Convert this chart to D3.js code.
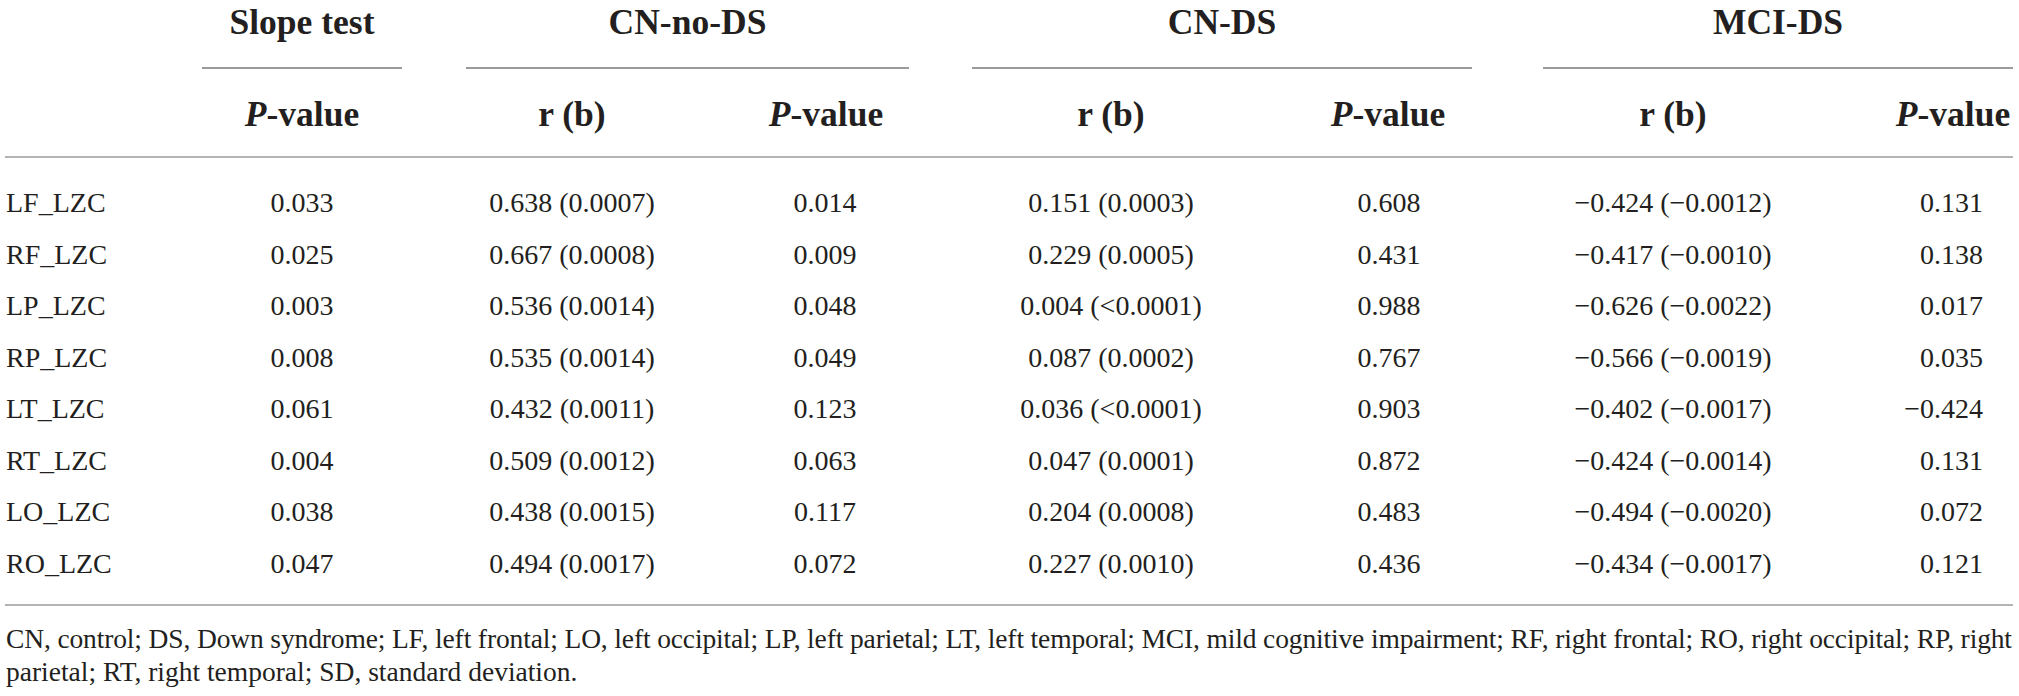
<!DOCTYPE html>
<html>
<head>
<meta charset="utf-8">
<script src="https://cdn.jsdelivr.net/npm/d3@7"></script>
<style>
  html, body { margin: 0; padding: 0; background: #fff; }
  svg { display: block; }
  text { font-family: "Liberation Serif", "DejaVu Serif", serif; fill: #231f20; }
</style>
</head>
<body>
<svg id="table" width="2019" height="696"></svg>
<script>
const rowLabels = ['LF_LZC', 'RF_LZC', 'LP_LZC', 'RP_LZC', 'LT_LZC', 'RT_LZC', 'LO_LZC', 'RO_LZC']
const slopeP = ['0.033', '0.025', '0.003', '0.008', '0.061', '0.004', '0.038', '0.047']
const cnNoDsR = ['0.638 (0.0007)', '0.667 (0.0008)', '0.536 (0.0014)', '0.535 (0.0014)', '0.432 (0.0011)', '0.509 (0.0012)', '0.438 (0.0015)', '0.494 (0.0017)']
const cnNoDsP = ['0.014', '0.009', '0.048', '0.049', '0.123', '0.063', '0.117', '0.072']
const cnDsR = ['0.151 (0.0003)', '0.229 (0.0005)', '0.004 (<0.0001)', '0.087 (0.0002)', '0.036 (<0.0001)', '0.047 (0.0001)', '0.204 (0.0008)', '0.227 (0.0010)']
const cnDsP = ['0.608', '0.431', '0.988', '0.767', '0.903', '0.872', '0.483', '0.436']
const mciDsR = ['\u22120.424 (\u22120.0012)', '\u22120.417 (\u22120.0010)', '\u22120.626 (\u22120.0022)', '\u22120.566 (\u22120.0019)', '\u22120.402 (\u22120.0017)', '\u22120.424 (\u22120.0014)', '\u22120.494 (\u22120.0020)', '\u22120.434 (\u22120.0017)']
const mciDsP = ['0.131', '0.138', '0.017', '0.035', '\u22120.424', '0.131', '0.072', '0.121']

// Column groups (spanning headers) and sub-columns
const groups = ['Slope test', 'CN-no-DS', 'CN-DS', 'MCI-DS']
const columns = ['slopeP', 'cnNoDsR', 'cnNoDsP', 'cnDsR', 'cnDsP', 'mciDsR', 'mciDsP']
const columnHeads = ['P', 'r', 'P', 'r', 'P', 'r', 'P']
const columnValues = [slopeP, cnNoDsR, cnNoDsP, cnDsR, cnDsP, mciDsR, mciDsP]

const footnote = [
  'CN, control; DS, Down syndrome; LF, left frontal; LO, left occipital; LP, left parietal; LT, left temporal; MCI, mild cognitive impairment; RF, right frontal; RO, right occipital; RP, right',
  'parietal; RT, right temporal; SD, standard deviation.'
]

const svg = d3.select('#table')
const left = 5
const right = 2013

// Layout scales
const colX = d3.scaleOrdinal().domain(columns).range([302, 572, 825, 1111, 1389, 1673, 1983])
const headX = d3.scaleOrdinal().domain(columns).range([302, 572, 826, 1111, 1388, 1673, 1953])
const groupSpan = d3.scaleOrdinal().domain(groups).range([[202, 402], [466, 909], [972, 1472], [1543, 2013]])
const y = d3.scalePoint().domain(rowLabels).range([212, 573])

// Spanning headers
svg.append('g').selectAll('text')
  .data(groups)
  .join('text')
  .attr('x', d => (groupSpan(d)[0] + groupSpan(d)[1]) / 2)
  .attr('y', 34)
  .attr('text-anchor', 'middle')
  .style('font-size', '35.5px')
  .style('font-weight', 'bold')
  .text(d => d)

svg.append('g').selectAll('line')
  .data(groups)
  .join('line')
  .attr('x1', d => groupSpan(d)[0])
  .attr('x2', d => groupSpan(d)[1])
  .attr('y1', 68)
  .attr('y2', 68)
  .attr('stroke', '#7a7a7a')
  .attr('stroke-width', 1.6)

// Sub-column headers
const heads = svg.append('g').selectAll('text')
  .data(columns)
  .join('text')
  .attr('x', d => headX(d))
  .attr('y', 126)
  .attr('text-anchor', 'middle')
  .style('font-size', '35.5px')
  .style('font-weight', 'bold')

heads.each(function (d, i) {
  const t = d3.select(this)
  if (columnHeads[i] === 'P') {
    t.append('tspan').style('font-style', 'italic').text('P')
    t.append('tspan').text('-value')
  } else {
    t.text('r (b)')
  }
})

// Horizontal rules
svg.append('line')
  .attr('x1', left).attr('x2', right)
  .attr('y1', 157).attr('y2', 157)
  .attr('stroke', '#b4b4b4').attr('stroke-width', 2)

svg.append('line')
  .attr('x1', left).attr('x2', right)
  .attr('y1', 605).attr('y2', 605)
  .attr('stroke', '#b4b4b4').attr('stroke-width', 2)

// Row labels
svg.append('g').selectAll('text')
  .data(rowLabels)
  .join('text')
  .attr('x', left + 1)
  .attr('y', d => y(d))
  .style('font-size', '28px')
  .text(d => d)

// Cells
columns.forEach((col, i) => {
  const anchor = col === 'mciDsP' ? 'end' : 'middle'
  svg.append('g').selectAll('text')
    .data(columnValues[i])
    .join('text')
    .attr('x', colX(col))
    .attr('y', (d, j) => y(rowLabels[j]))
    .attr('text-anchor', anchor)
    .style('font-size', '28px')
    .text(d => d)
})

// Footnote
svg.append('g').selectAll('text')
  .data(footnote)
  .join('text')
  .attr('x', left + 1)
  .attr('y', (d, i) => 648 + i * 33)
  .style('font-size', '27.5px')
  .each(function (d, i) {
    if (i === 0) {
      d3.select(this).attr('textLength', right - left - 2).attr('lengthAdjust', 'spacing')
    }
  })
  .text(d => d)
</script>
</body>
</html>
